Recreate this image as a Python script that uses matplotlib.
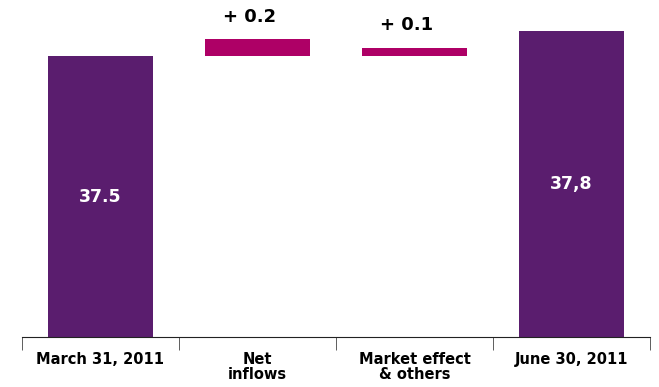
import matplotlib
matplotlib.use("Agg")
import matplotlib.pyplot as plt
from matplotlib.ticker import FixedLocator

categories = ["March 31, 2011", "Net\ninflows", "Market effect\n& others", "June 30, 2011"]
start_value = 37.5
changes = [0.2, 0.1]
end_value = 37.8
value_labels = ["37.5", "+ 0.2", "+ 0.1", "37,8"]

purple = "#5A1D6E"
magenta = "#AE0066"

heights = [start_value] + changes + [end_value]
bottoms = [0, start_value, start_value, 0]
colors = [purple, magenta, magenta, purple]
x = list(range(len(categories)))

fig = plt.figure(figsize=(6.59, 3.87), dpi=100)
ax = fig.add_axes([22 / 659, 50 / 387, 628 / 659, 337 / 387])

ax.bar(x, heights, bottom=bottoms, width=0.67, color=colors)

ax.set_xlim(-0.5, 3.5)
ax.set_ylim(34.19, 38.16)

# totals inside the purple bars, changes above the magenta ones
for i in x:
    top = bottoms[i] + heights[i]
    if bottoms[i] == 0:
        ax.text(i, (ax.get_ylim()[0] + top) / 2, value_labels[i], ha="center", va="center",
                color="white", fontsize=12.5, fontweight="bold")
    else:
        ax.annotate(value_labels[i], (i - 0.05, top), xytext=(0, 16), textcoords="offset points",
                    ha="center", va="center", fontsize=13, fontweight="bold")

for side in ["left", "right", "top"]:
    ax.spines[side].set_visible(False)
ax.spines["bottom"].set_color("#222222")
ax.set_yticks([])

ax.set_xticks(x)
ax.set_xticklabels(categories, fontsize=10.5, fontweight="bold", linespacing=0.95, va="top")
ax.tick_params(axis="x", which="major", length=0, pad=11)
ax.xaxis.set_minor_locator(FixedLocator([-0.5, 0.5, 1.5, 2.5, 3.5]))
ax.tick_params(axis="x", which="minor", length=9.5, direction="out", color="#444444")

fig.savefig("out.png", dpi=100)
